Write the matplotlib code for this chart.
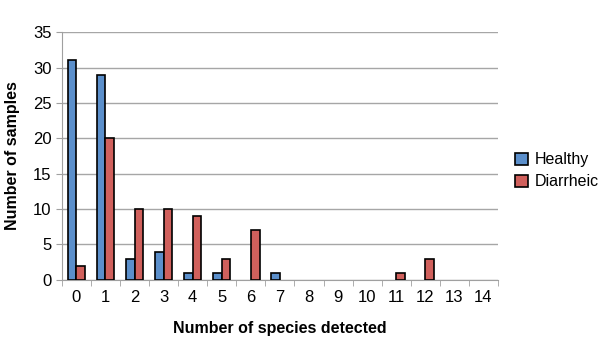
import matplotlib
matplotlib.use("Agg")
import matplotlib.pyplot as plt
import numpy as np

categories = [str(i) for i in range(15)]
healthy = [31, 29, 3, 4, 1, 1, 0, 1, 0, 0, 0, 0, 0, 0, 0]
diarrheic = [2, 20, 10, 10, 9, 3, 7, 0, 0, 0, 0, 1, 3, 0, 0]
yticks = [0, 5, 10, 15, 20, 25, 30, 35]

plt.rcParams['font.family'] = ['Liberation Sans', 'DejaVu Sans']

fig = plt.figure(figsize=(6.0, 3.49), dpi=100)
ax = fig.add_axes([0.103, 0.198, 0.727, 0.71])

x = np.arange(len(categories))
w = 0.3
hb = ax.bar(x - w/2, healthy, width=w, color='#5B8FCB', edgecolor='black', linewidth=1.2, label='Healthy', zorder=3)
db = ax.bar(x + w/2, diarrheic, width=w, color='#D0605C', edgecolor='black', linewidth=1.2, label='Diarrheic', zorder=3)
for bars, vals in ((hb, healthy), (db, diarrheic)):
    for b, v in zip(bars, vals):
        if v == 0:
            b.set_visible(False)

ax.set_xlim(-0.5, len(categories) - 0.5)
ax.set_ylim(0, 35)
ax.set_yticks(yticks)
ax.set_xticks(x)
ax.set_xticklabels(categories)
ax.set_xticks(np.arange(-0.5, len(categories)), minor=True)
ax.tick_params(axis='x', which='major', length=0, labelsize=12, pad=7)
ax.tick_params(axis='x', which='minor', length=4, color='#A0A0A0')
ax.tick_params(axis='y', length=4, color='#A0A0A0', labelsize=12, direction='out')
ax.grid(axis='y', color='#A6A6A6', linewidth=1.0, zorder=0)
for s in ['top', 'right']:
    ax.spines[s].set_visible(False)
ax.spines['left'].set_color('#A0A0A0')
ax.spines['bottom'].set_color('#A0A0A0')

ax.set_xlabel('Number of species detected', fontsize=11.5, fontweight='bold', labelpad=12)
ax.set_ylabel('Number of samples', fontsize=11.5, fontweight='bold', labelpad=9)

leg = ax.legend(loc='center left', bbox_to_anchor=(1.04, 0.44), frameon=False, fontsize=11.5,
                borderpad=0, borderaxespad=0,
                handlelength=0.8, handleheight=0.8, handletextpad=0.4, labelspacing=0.45)

fig.savefig('out.png', dpi=100)
